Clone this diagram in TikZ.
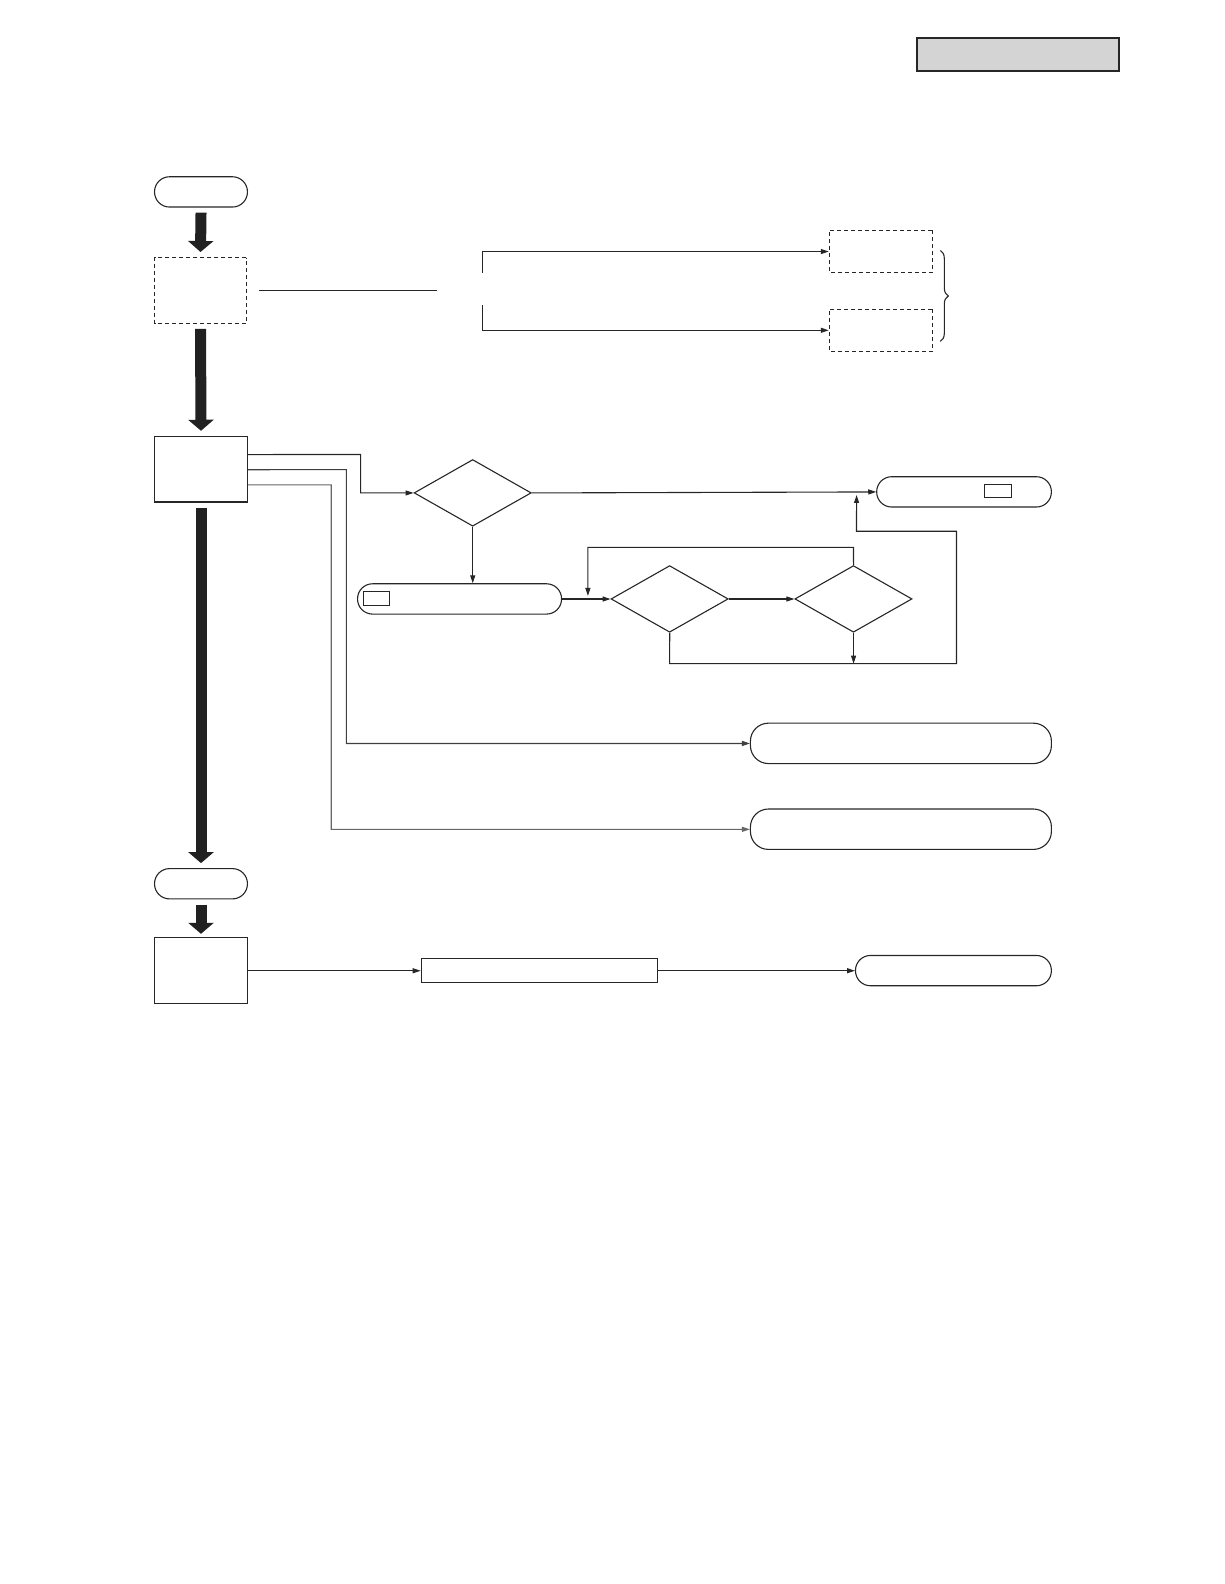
\documentclass[tikz,border=0pt]{standalone}
\usetikzlibrary{arrows.meta,shapes.geometric,decorations.pathreplacing}
\begin{document}
\begin{tikzpicture}[x=1pt,y=-1pt,
  ln/.style={line width=1.1pt, draw=black!85},
  arr/.style={ln,-{Triangle[length=8pt,width=5pt]}},
  big/.style={line width=11pt, draw=black!87, -{Triangle[length=11pt,width=25pt]}},
  term/.style={draw=black!85, line width=1.1pt, rounded corners=15pt, inner sep=0, minimum height=30pt},
  box/.style={draw=black!85, line width=1.1pt, inner sep=0},
  dbox/.style={box, dash pattern=on 4pt off 3pt},
  dia/.style={diamond, draw=black!85, line width=1.1pt, inner sep=0, minimum width=116pt, minimum height=66pt},
  smallbox/.style={draw=black!85, line width=0.9pt, inner sep=0, minimum width=26pt, minimum height=13pt}]
\useasboundingbox (0,0) rectangle (1224,1584);
\begin{scope}[scale=1.01, transform shape]
% header
\node[box, fill=black!17, line width=2pt, minimum width=200pt, minimum height=32pt] (hdr) at (1008,54) {};
% left column
\node[term, minimum width=92pt] (start) at (199,190) {};
\node[dbox, minimum width=91pt, minimum height=65pt] (d1) at (198.5,287.5) {};
\node[box, minimum width=92pt, minimum height=65pt] (p1) at (199,464.5) {};
\node[term, minimum width=92pt] (e) at (199,875) {};
\node[box, minimum width=92pt, minimum height=66pt] (p2) at (199,961) {};
\draw[big] ([yshift=-5pt]start.south) -- ([yshift=5pt]d1.north);
\draw[big] ([yshift=-5pt]d1.south) -- ([yshift=5pt]p1.north);
\draw[big] ([yshift=-5pt]p1.south) -- ([yshift=5pt]e.north);
\draw[big] ([yshift=-5pt]e.south) -- ([yshift=3pt]p2.north);
% top branch
\coordinate (l1a) at (256,288); \coordinate (l1b) at (433,288);
\draw[ln] (l1a) -- (l1b);
\node[dbox, minimum width=102pt, minimum height=42pt] (dA) at (872,249) {};
\node[dbox, minimum width=102pt, minimum height=42pt] (dB) at (872,327) {};
\coordinate (bA) at (478,270); \coordinate (bB) at (478,302);
\draw[arr] (bA) |- (dA.west);
\draw[arr] (bB) |- (dB.west);
\draw[ln, decorate, decoration={brace, amplitude=8pt}] (931,248) -- (931,338);
% middle section
\node[dia] (q1) at (468,488) {};
\node[term, minimum width=173pt] (t1) at (954.5,487) {};
\node[smallbox] (s1) at (988,486.5) {};
\node[term, minimum width=202pt] (t2) at (455,593) {};
\node[smallbox] (s2) at (373,592.5) {};
\node[dia] (q2) at (663,593) {};
\node[dia] (q3) at (845,593) {};
\node[term, rounded corners=18pt, minimum width=298pt, minimum height=40pt] (t3) at (892,736) {};
\node[term, rounded corners=18pt, minimum width=298pt, minimum height=40pt] (t4) at (892,821) {};
\draw[arr] ([yshift=14.5pt]p1.east) -- (357,450) |- (q1.west);
\draw[arr, draw=black!75] ([yshift=-0.5pt]p1.east) -- (343,465) |- (t3.west);
\draw[arr, draw=black!60] ([yshift=-15.5pt]p1.east) -- (328,480) |- (t4.west);
\draw[arr] (q1.east) -- (t1.west);
\draw[arr] (q1.south) -- (q1.south |- t2.north);
\draw[arr] (t2.east) -- (q2.west);
\draw[arr] (q2.east) -- (q3.west);
\coordinate (j3) at (582,593);
\coordinate (j1) at (848,488);
\coordinate (j2) at (845,657);
\draw[arr] (q3.north) -- (845,542) -| ([yshift=3pt]j3);
\draw[arr] (q2.south) -- (663,657) -- (947,657) -- (947,526) -- (848,526) -- ([yshift=-2pt]j1);
\draw[arr] (q3.south) -- (j2);
% bottom row
\node[box, minimum width=234pt, minimum height=24pt] (r1) at (534,961) {};
\node[term, minimum width=194pt] (t5) at (944,961) {};
\draw[arr] (p2.east) -- (r1.west);
\draw[arr] (r1.east) -- (t5.west);
\end{scope}
\end{tikzpicture}
\end{document}
